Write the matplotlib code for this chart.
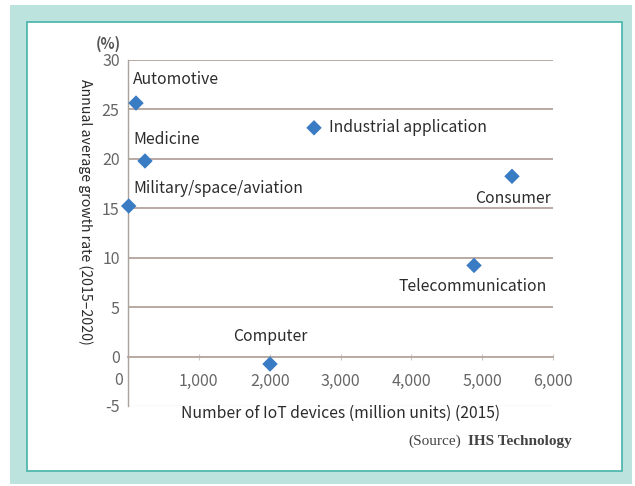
import matplotlib
matplotlib.use("Agg")
import matplotlib.pyplot as plt
from matplotlib.patches import Rectangle
import matplotlib.transforms as mtransforms

categories = ["Automotive", "Medicine", "Military/space/aviation", "Industrial application",
              "Consumer", "Telecommunication", "Computer"]
devices = [113, 240, 10, 2626, 5421, 4885, 2005]
growth = [25.6, 19.75, 15.2, 23.1, 18.2, 9.2, -0.76]
# label anchor positions (data coords) and alignment
label_x = [70, 70, 70, 2840, 5970, 5915, 2005]
label_y = [28.0, 21.9, 17.0, 23.1, 16.0, 7.1, 2.0]
label_ha = ["left", "left", "left", "left", "right", "right", "center"]

xticks = [0, 1000, 2000, 3000, 4000, 5000, 6000]
xticklabels = ["0", "1,000", "2,000", "3,000", "4,000", "5,000", "6,000"]
yticks = [-5, 0, 5, 10, 15, 20, 25, 30]

W, H = 635, 486
fig = plt.figure(figsize=(W / 100, H / 100), dpi=100)
fig.patch.set_facecolor("white")

def fx(px):
    return px / W

def fy(py):
    return 1 - py / H

# Teal frame background
fig.patches.append(Rectangle((fx(10), fy(484)), fx(632) - fx(10), fy(5) - fy(484),
                             transform=fig.transFigure, facecolor="#bde3df", edgecolor="none", zorder=-3))
fig.patches.append(Rectangle((fx(27), fy(471)), fx(622) - fx(27), fy(22) - fy(471),
                             transform=fig.transFigure, facecolor="white", edgecolor="#45b3a8",
                             linewidth=1.2, zorder=-2))

font = ["Noto Sans CJK JP", "DejaVu Sans"]
fs = 11.3
txtc = "#2b2b2b"
tickc = "#666666"
gridc = "#b3a39b"

ax = fig.add_axes([fx(128), fy(406), fx(553) - fx(128), fy(59.5) - fy(406)])
ax.set_zorder(2)
ax.set_facecolor("none")
ax.set_xlim(0, 6000)
ax.set_ylim(-5, 30)

for g in [5, 10, 15, 20, 25, 30]:
    ax.axhline(g, color=gridc, linewidth=1.3, zorder=1)
ax.axhline(-5, color="#e8e5e3", linewidth=1.0, zorder=1)

for s in ["top", "right"]:
    ax.spines[s].set_visible(False)
ax.spines["bottom"].set_position(("data", 0))
ax.spines["bottom"].set_color(gridc)
ax.spines["bottom"].set_linewidth(1.3)
ax.spines["left"].set_color("#aaa29c")
ax.spines["left"].set_linewidth(1.0)

ax.set_xticks(xticks)
ax.set_xticklabels(xticklabels, family=font, fontsize=11.5, color=tickc)
ax.tick_params(axis="x", direction="inout", length=5, color="#cfc7c1", pad=9)
ax.set_yticks(yticks)
ax.set_yticklabels([str(v) for v in yticks], family=font, fontsize=11.5, color=tickc)
ax.tick_params(axis="y", length=0, pad=6)

# shift the x "0" label left like the reference
lbl0 = ax.get_xticklabels()[0]
lbl0.set_transform(lbl0.get_transform() + mtransforms.ScaledTranslation(-9 / 100, 0, fig.dpi_scale_trans))

ax.scatter(devices, growth, marker="D", s=62, color="#3a7cc4", edgecolor="none", zorder=4, clip_on=False)

for name, lx, ly, ha in zip(categories, label_x, label_y, label_ha):
    ax.text(lx, ly, name, ha=ha, va="center", family=font, fontsize=fs, color=txtc, zorder=3,
            bbox=dict(facecolor="white", edgecolor="none", pad=0.3))

ax.text(-0.101, 0.56, "Annual average growth rate (2015\u20132020)", transform=ax.transAxes,
        rotation=270, ha="center", va="center", family=font, fontsize=10.2, color=txtc)
fig.text(fx(108), fy(44), "(%)", ha="center", va="center",
         family=font, fontsize=10.5, fontweight="bold", color="#555555")

fig.text(fx(341), fy(413), "Number of IoT devices (million units) (2015)", ha="center", va="center",
         family=font, fontsize=fs, color=txtc)

fig.text(fx(572), fy(441), "IHS Technology", ha="right", va="center", family="Liberation Serif",
         fontsize=11, fontweight="bold", color="#444444")
fig.text(fx(461), fy(441), "(Source)", ha="right", va="center", family="Liberation Serif",
         fontsize=11, color="#444444")

fig.savefig("out.png", dpi=100)
